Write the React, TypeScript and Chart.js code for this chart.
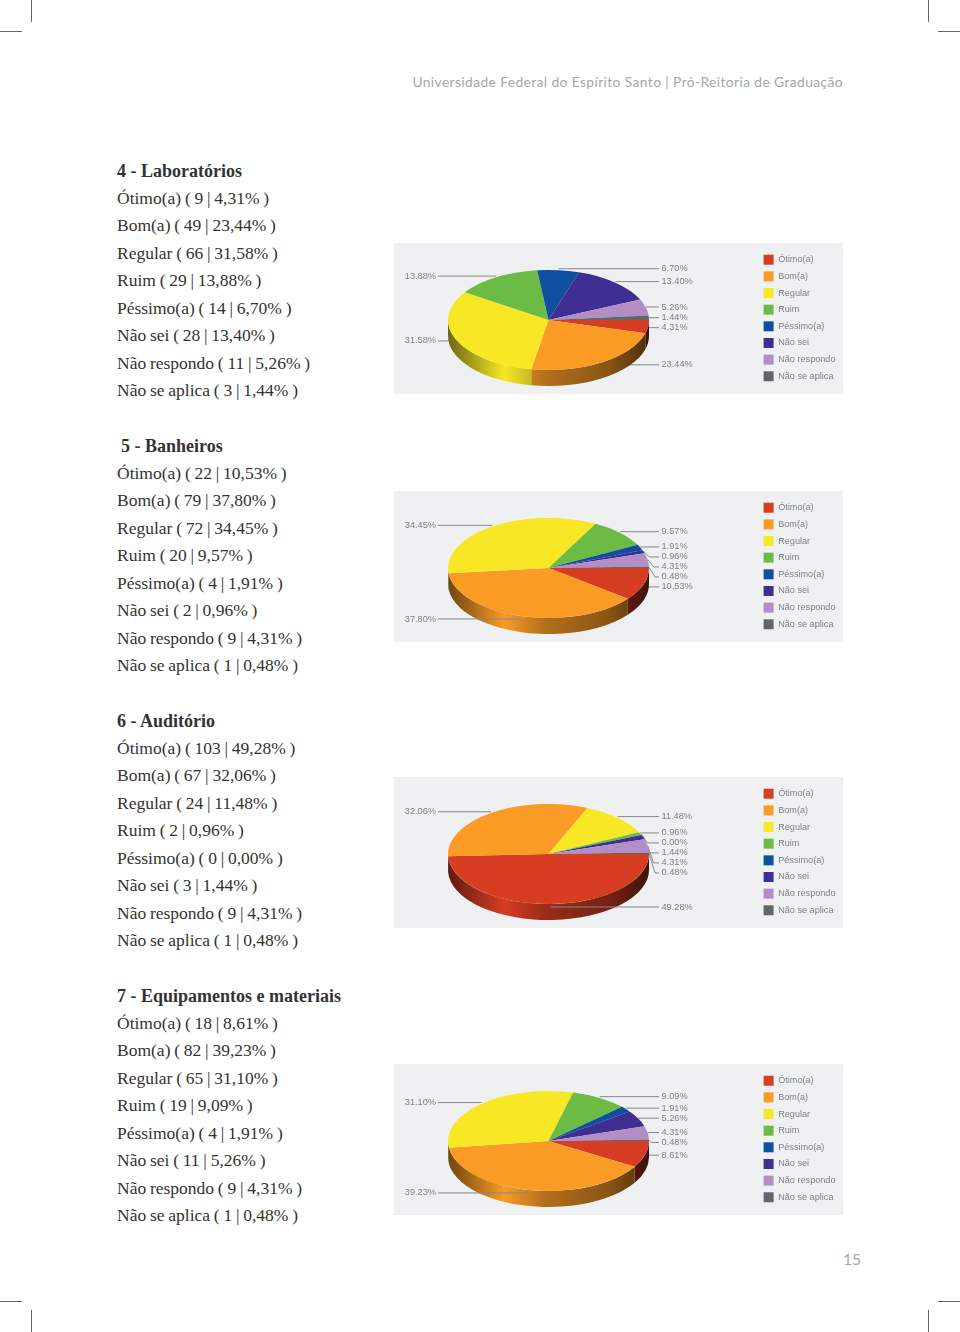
import React, { useEffect, useRef } from "react";
import { Chart, registerables } from "chart.js";

Chart.register(...registerables);

const categories = ["Ótimo(a)", "Bom(a)", "Regular", "Ruim", "Péssimo(a)", "Não sei", "Não respondo", "Não se aplica"];
const colors = ["#d63d23", "#f99b25", "#f7e725", "#6cbb45", "#0f4fa0", "#3f2e92", "#b28dc6", "#646669"];

const titles = ["4 - Laboratórios", "5 - Banheiros", "6 - Auditório", "7 - Equipamentos e materiais"];

const counts4 = [9, 49, 66, 29, 14, 28, 11, 3];
const counts5 = [22, 79, 72, 20, 4, 2, 9, 1];
const counts6 = [103, 67, 24, 2, 0, 3, 9, 1];
const counts7 = [18, 82, 65, 19, 4, 11, 9, 1];

const pct4 = [4.31, 23.44, 31.58, 13.88, 6.7, 13.4, 5.26, 1.44];
const pct5 = [10.53, 37.8, 34.45, 9.57, 1.91, 0.96, 4.31, 0.48];
const pct6 = [49.28, 32.06, 11.48, 0.96, 0, 1.44, 4.31, 0.48];
const pct7 = [8.61, 39.23, 31.1, 9.09, 1.91, 5.26, 4.31, 0.48];

const blocks = [
  { title: titles[0], counts: counts4, pct: pct4, textTop: 158, titleLeft: 117, chartTop: 243 },
  { title: titles[1], counts: counts5, pct: pct5, textTop: 433, titleLeft: 121, chartTop: 491 },
  { title: titles[2], counts: counts6, pct: pct6, textTop: 708, titleLeft: 117, chartTop: 777 },
  { title: titles[3], counts: counts7, pct: pct7, textTop: 983, titleLeft: 117, chartTop: 1064 },
];

const P_W = 449;
const P_H = 151;
const CX = 154.5;
const CY = 77;
const R = 100.5;
const RY = 50;
const DEPTH = 16;
const GREY = "#7f8285";

function mix(hex: string, k: number) {
  const n = parseInt(hex.slice(1), 16);
  const c = [(n >> 16) & 255, (n >> 8) & 255, n & 255].map((v) => Math.round(v * k));
  return `rgb(${c[0]},${c[1]},${c[2]})`;
}

function drawWall(ctx: CanvasRenderingContext2D, x: number, y: number, start: number, end: number, color: string) {
  const a0 = Math.max(start, 0);
  const a1 = Math.min(end, Math.PI);
  if (a1 <= a0) return;
  const g = ctx.createLinearGradient(x - R, 0, x + R, 0);
  g.addColorStop(0, mix(color, 0.45));
  g.addColorStop(0.12, mix(color, 0.68));
  g.addColorStop(0.28, mix(color, 1));
  g.addColorStop(0.48, mix(color, 0.72));
  g.addColorStop(0.8, mix(color, 0.55));
  g.addColorStop(1, mix(color, 0.3));
  ctx.beginPath();
  ctx.ellipse(x, y, R, RY, 0, a0, a1);
  ctx.ellipse(x, y + DEPTH, R, RY, 0, a1, a0, true);
  ctx.closePath();
  ctx.fillStyle = g;
  ctx.fill();
}

function buildLeaders(chart: any) {
  const arcs = chart.getDatasetMeta(0).data;
  const values: number[] = chart.data.datasets[0].data;
  const items = arcs.map((arc: any, i: number) => {
    const { startAngle, endAngle, x, y } = arc.getProps(["startAngle", "endAngle", "x", "y"], true);
    const a = (startAngle + endAngle) / 2;
    const s = Math.sin(a);
    const c = Math.cos(a);
    return {
      ax: x + R * c,
      ay: y + RY * s + (s > 0 ? 3 * s : 1.5 * s),
      right: c >= 0,
      order: s,
      text: values[i].toFixed(2) + "%",
    };
  });
  for (const right of [true, false]) {
    const side = items.filter((t: any) => t.right === right).sort((p: any, q: any) => p.order - q.order);
    let prev = -Infinity;
    for (const t of side) {
      t.ly = Math.max(t.ay, prev + 10);
      prev = t.ly;
    }
  }
  return items;
}

function drawLeader(ctx: CanvasRenderingContext2D, t: any) {
  const dir = t.right ? 1 : -1;
  const endX = t.right ? 265 : 44;
  ctx.beginPath();
  ctx.moveTo(t.ax, t.ay);
  ctx.lineTo(t.ax + dir * Math.min(6, Math.abs(t.ly - t.ay)), t.ly);
  ctx.lineTo(endX, t.ly);
  ctx.strokeStyle = "#85888b";
  ctx.lineWidth = 1;
  ctx.stroke();
}

const pie3d = {
  id: "pie3d",
  afterLayout(chart: any) {
    chart.chartArea = {
      left: CX - 40,
      right: CX + 40,
      top: CY - 40,
      bottom: CY + 40,
      width: 80,
      height: 80,
    };
    chart.legend.left += 2.5;
  },
  beforeDatasetsDraw(chart: any) {
    const { ctx } = chart;
    const arcs = chart.getDatasetMeta(0).data;
    const items = buildLeaders(chart);
    ctx.save();
    items.filter((t: any) => t.ay < CY + RY).forEach((t: any) => drawLeader(ctx, t));
    arcs.forEach((arc: any, i: number) => {
      const { startAngle, endAngle, x, y } = arc.getProps(["startAngle", "endAngle", "x", "y"], true);
      drawWall(ctx, x, y, startAngle, endAngle, colors[i]);
    });
    items.filter((t: any) => t.ay >= CY + RY).forEach((t: any) => drawLeader(ctx, t));
    ctx.font = '9.2px "Liberation Sans"';
    ctx.fillStyle = GREY;
    ctx.textBaseline = "middle";
    items.forEach((t: any) => {
      ctx.textAlign = t.right ? "left" : "right";
      ctx.fillText(t.text, t.right ? 267.5 : 42, t.ly);
    });
    ctx.restore();
  },
  beforeDatasetDraw(chart: any) {
    const { ctx } = chart;
    ctx.save();
    ctx.translate(CX, CY);
    ctx.scale(1, RY / R);
    ctx.translate(-CX, -CY);
  },
  afterDatasetDraw(chart: any) {
    chart.ctx.restore();
  },
};

function PieCanvas({ pct }: { pct: number[] }) {
  const ref = useRef<HTMLCanvasElement>(null);
  useEffect(() => {
    const chart = new Chart(ref.current as HTMLCanvasElement, {
      type: "pie",
      data: {
        labels: categories,
        datasets: [
          {
            data: pct,
            backgroundColor: colors,
            borderWidth: 0,
            radius: R,
            clip: false,
          } as any,
        ],
      },
      options: {
        responsive: false,
        animation: false,
        rotation: 90,
        layout: { padding: { top: 0, bottom: 1, left: 0, right: 0 } },
        plugins: {
          tooltip: { enabled: false },
          legend: {
            position: "right",
            labels: {
              boxWidth: 10,
              boxHeight: 10,
              padding: 6.65,
              color: GREY,
              font: { family: '"Liberation Sans"', size: 9.15 },
            },
          },
        },
      },
      plugins: [pie3d],
    } as any);
    return () => chart.destroy();
  }, [pct]);
  return <canvas ref={ref} width={P_W} height={P_H} style={{ display: "block", background: "#eff0f2" }} />;
}

const bodyStyle: React.CSSProperties = {
  position: "absolute",
  left: 117,
  whiteSpace: "nowrap",
  fontFamily: '"Liberation Serif", serif',
  fontSize: 17.5,
  wordSpacing: -0.6,
  lineHeight: "27.5px",
  color: "#333",
};

const markStyle = (left: number, top: number, width: number, height: number): React.CSSProperties => ({
  position: "absolute",
  left,
  top,
  width,
  height,
  background: "#666",
});

export default function App() {
  return (
    <div style={{ position: "absolute", left: 0, top: 0, width: 960, height: 1332, overflow: "hidden", background: "#fff" }}>
      <div style={markStyle(31, 0, 1, 22)} />
      <div style={markStyle(0, 31, 22, 1)} />
      <div style={markStyle(928, 0, 1, 22)} />
      <div style={markStyle(938, 31, 22, 1)} />
      <div style={markStyle(31, 1310, 1, 22)} />
      <div style={markStyle(0, 1301, 22, 1)} />
      <div style={markStyle(928, 1310, 1, 22)} />
      <div style={markStyle(938, 1301, 22, 1)} />
      <div
        style={{
          position: "absolute",
          right: 117,
          top: 73,
          whiteSpace: "nowrap",
          fontFamily: 'Lato, sans-serif',
          fontSize: 13.8,
          letterSpacing: 0.4,
          color: "#a4a7aa",
        }}
      >
        Universidade Federal do Espírito Santo | Pró-Reitoria de Graduação
      </div>
      {blocks.map((b) => (
        <React.Fragment key={b.title}>
          <div style={{ ...bodyStyle, top: b.textTop, left: b.titleLeft, fontWeight: 700, fontSize: 18, wordSpacing: 0 }}>{b.title}</div>
          {categories.map((c, i) => (
            <div key={c} style={{ ...bodyStyle, top: b.textTop - 1 + 27.5 * (i + 1) }}>
              {`${c} ( ${b.counts[i]} | ${b.pct[i].toFixed(2).replace(".", ",")}% )`}
            </div>
          ))}
          <div style={{ position: "absolute", left: 394, top: b.chartTop }}>
            <PieCanvas pct={b.pct} />
          </div>
        </React.Fragment>
      ))}
      <div
        style={{
          position: "absolute",
          left: 843,
          top: 1250,
          fontFamily: 'Lato, sans-serif',
          fontSize: 15.5,
          color: "#a4a7aa",
        }}
      >
        15
      </div>
    </div>
  );
}
